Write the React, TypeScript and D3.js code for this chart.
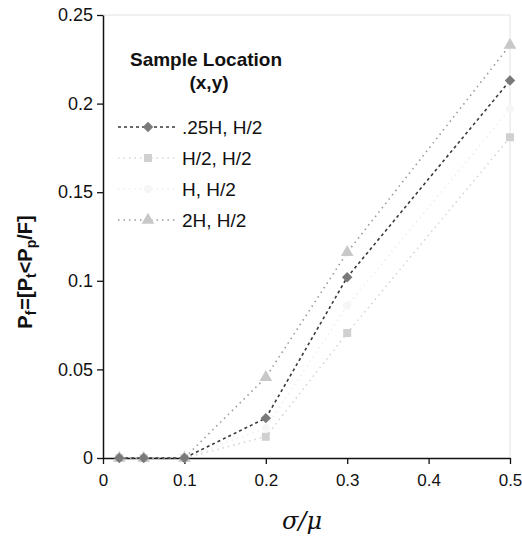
import React, { useRef, useEffect } from 'react';
import * as d3 from 'd3';

const xValues = [0.02, 0.05, 0.1, 0.2, 0.3, 0.5];
const quarterH = [0, 0, 0, 0.0225, 0.102, 0.213];
const halfH = [0, 0, 0, 0.012, 0.0705, 0.181];
const fullH = [0, 0, 0, 0.017, 0.086, 0.197];
const twoH = [0, 0, 0, 0.0455, 0.116, 0.233];
const seriesNames = ['.25H, H/2', 'H/2, H/2', 'H, H/2', '2H, H/2'];
const xTicks = [0, 0.1, 0.2, 0.3, 0.4, 0.5];
const yTicks = [0, 0.05, 0.1, 0.15, 0.2, 0.25];

const styles = [
    { line: '#3a3a3a', dash: '3,3', width: 1.6, marker: 'diamond', fill: '#7a7a7a' },
    { line: '#d6d6d6', dash: '1.5,4', width: 1.6, marker: 'square', fill: '#d0d0d0' },
    { line: '#eeeeee', dash: '1.5,4', width: 1.6, marker: 'circle', fill: '#f6f6f6' },
    { line: '#9a9a9a', dash: '1.5,4', width: 1.6, marker: 'triangle', fill: '#c8c8c8' },
];

function App() {
    const ref = useRef();

    useEffect(() => {
        const svg = d3.select(ref.current);
        svg.selectAll('*').remove();

        const x = d3.scaleLinear().domain([0, 0.5]).range([103, 510]);
        const y = d3.scaleLinear().domain([0, 0.25]).range([458, 15]);
        const font = 'Liberation Sans, Arial, sans-serif';

        // frame
        svg.append('line').attr('x1', 103).attr('x2', 510).attr('y1', y(0.25)).attr('y2', y(0.25))
            .attr('stroke', '#e2e2e2');
        svg.append('line').attr('x1', 510).attr('x2', 510).attr('y1', y(0.25)).attr('y2', y(0))
            .attr('stroke', '#e2e2e2');

        const xAxis = d3.axisBottom(x).tickValues(xTicks).tickSize(6).tickFormat(d3.format('')).tickSizeOuter(0);
        const gx = svg.append('g').attr('transform', `translate(0,${y(0)})`).call(xAxis);
        gx.select('.domain').attr('stroke', '#111').attr('stroke-width', 1.5);
        gx.selectAll('line').attr('stroke', '#111').attr('stroke-width', 1.3);
        gx.selectAll('text').attr('font-family', font).attr('font-size', 17).attr('fill', '#111').attr('dy', '1.1em');

        const yAxis = d3.axisLeft(y).tickValues(yTicks).tickSize(6).tickFormat(d3.format('')).tickSizeOuter(0);
        const gy = svg.append('g').attr('transform', `translate(${x(0)},0)`).call(yAxis);
        gy.select('.domain').attr('stroke', '#111').attr('stroke-width', 1.5);
        gy.selectAll('line').attr('stroke', '#111').attr('stroke-width', 1.3);
        gy.selectAll('text').attr('font-family', font).attr('font-size', 18).attr('fill', '#111').attr('x', -10);

        const all = [quarterH, halfH, fullH, twoH];
        const line = d3.line().x((d, i) => x(xValues[i])).y(d => y(d));

        const drawMarker = (g, kind, cx, cy, fill) => {
            const types = { diamond: [d3.symbolDiamond2, 70], square: [d3.symbolSquare, 64], triangle: [d3.symbolTriangle, 70], circle: [d3.symbolCircle, 55] };
            const [t, size] = types[kind];
            g.append('path').attr('d', d3.symbol(t, size)()).attr('transform', `translate(${cx},${cy})`).attr('fill', fill);
        };

        const order = [2, 1, 3, 0];
        order.forEach(k => {
            const s = styles[k];
            const g = svg.append('g');
            g.append('path').attr('d', line(all[k])).attr('fill', 'none').attr('stroke', s.line)
                .attr('stroke-width', s.width).attr('stroke-dasharray', s.dash);
            all[k].forEach((v, i) => drawMarker(g, s.marker, x(xValues[i]), y(v), s.fill));
        });

        // legend
        const lg = svg.append('g');
        lg.append('text').attr('x', 206).attr('y', 66).attr('text-anchor', 'middle').attr('font-family', font)
            .attr('font-weight', 'bold').attr('font-size', 19).attr('fill', '#111').text('Sample Location');
        lg.append('text').attr('x', 209).attr('y', 89).attr('text-anchor', 'middle').attr('font-family', font)
            .attr('font-weight', 'bold').attr('font-size', 19).attr('fill', '#111').text('(x,y)');
        seriesNames.forEach((name, i) => {
            const s = styles[i];
            const cy = 127 + i * 31;
            lg.append('line').attr('x1', 118).attr('x2', 178).attr('y1', cy).attr('y2', cy).attr('stroke', s.line)
                .attr('stroke-width', s.width).attr('stroke-dasharray', s.dash);
            drawMarker(lg, s.marker, 148, cy, s.fill);
            lg.append('text').attr('x', 182).attr('y', cy + 6.5).attr('font-family', font).attr('font-size', 19)
                .attr('fill', '#111').text(name);
        });

        // axis titles
        const yl = svg.append('text').attr('transform', 'translate(32,272) rotate(-90)').attr('text-anchor', 'middle')
            .attr('font-family', font).attr('font-weight', 'bold').attr('font-size', 20).attr('fill', '#111');
        yl.append('tspan').text('P');
        yl.append('tspan').attr('font-size', 14).attr('dy', 4).text('f');
        yl.append('tspan').attr('dy', -4).attr('dx', 1).text('=[P');
        yl.append('tspan').attr('font-size', 14).attr('dy', 4).text('t');
        yl.append('tspan').attr('dy', -4).text('<P');
        yl.append('tspan').attr('font-size', 14).attr('dy', 4).text('p');
        yl.append('tspan').attr('dy', -4).text('/F]');

        svg.append('text').attr('x', 302).attr('y', 529).attr('text-anchor', 'middle')
            .attr('font-family', 'DejaVu Serif, serif').attr('font-style', 'italic').attr('font-size', 24)
            .attr('fill', '#111').text('σ/μ');
    }, []);

    return (
        <div style={{ position: 'absolute', left: 0, top: 0 }}>
            <svg width={522} height={540} ref={ref} style={{ display: 'block', background: '#fff' }}></svg>
        </div>
    );
}

export default App;
